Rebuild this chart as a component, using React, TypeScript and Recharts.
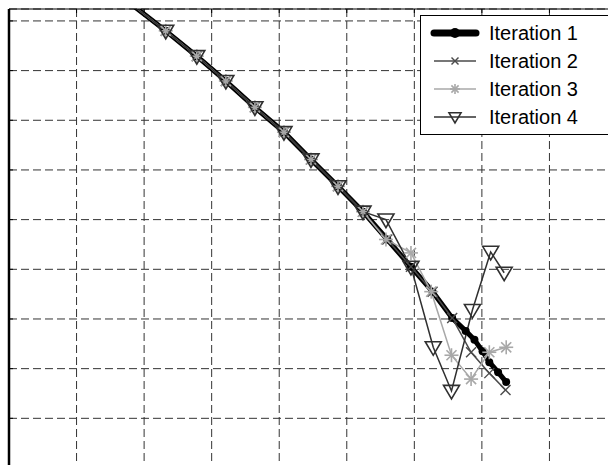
import { LineChart, Line, XAxis, YAxis, CartesianGrid, Legend } from 'recharts';

const iteration1 = [
	{ x: 1.4, y: 8.77 }, { x: 2.32, y: 7.8 }, { x: 2.78, y: 7.29 }, { x: 3.21, y: 6.79 },
	{ x: 3.64, y: 6.26 }, { x: 4.07, y: 5.76 }, { x: 4.47, y: 5.21 }, { x: 4.87, y: 4.67 },
	{ x: 5.24, y: 4.16 }, { x: 5.6, y: 3.6 }, { x: 5.95, y: 3.05 }, { x: 6.27, y: 2.55 },
	{ x: 6.56, y: 2.02 }, { x: 6.76, y: 1.76 }, { x: 6.89, y: 1.58 }, { x: 7.01, y: 1.35 },
	{ x: 7.11, y: 1.13 }, { x: 7.24, y: 0.93 }, { x: 7.36, y: 0.73 },
];

const iteration2 = [
	{ x: 1.4, y: 8.77 }, { x: 2.32, y: 7.8 }, { x: 2.78, y: 7.29 }, { x: 3.21, y: 6.79 },
	{ x: 3.64, y: 6.26 }, { x: 4.07, y: 5.76 }, { x: 4.47, y: 5.21 }, { x: 4.87, y: 4.67 },
	{ x: 5.24, y: 4.16 }, { x: 5.6, y: 3.6 }, { x: 5.95, y: 3.05 }, { x: 6.27, y: 2.55 },
	{ x: 6.56, y: 2.02 }, { x: 6.84, y: 1.33 }, { x: 7.11, y: 0.91 }, { x: 7.35, y: 0.57 },
];

const iteration3 = [
	{ x: 1.4, y: 8.77 }, { x: 2.32, y: 7.8 }, { x: 2.78, y: 7.29 }, { x: 3.21, y: 6.79 },
	{ x: 3.64, y: 6.26 }, { x: 4.07, y: 5.76 }, { x: 4.47, y: 5.21 }, { x: 4.87, y: 4.67 },
	{ x: 5.24, y: 4.16 }, { x: 5.58, y: 3.6 }, { x: 5.95, y: 3.33 }, { x: 6.25, y: 2.55 },
	{ x: 6.55, y: 1.27 }, { x: 6.84, y: 0.79 }, { x: 7.11, y: 1.33 }, { x: 7.36, y: 1.43 },
];

const iteration4 = [
	{ x: 1.4, y: 8.77 }, { x: 2.32, y: 7.8 }, { x: 2.78, y: 7.29 }, { x: 3.21, y: 6.79 },
	{ x: 3.64, y: 6.26 }, { x: 4.07, y: 5.76 }, { x: 4.47, y: 5.21 }, { x: 4.87, y: 4.67 },
	{ x: 5.24, y: 4.16 }, { x: 5.58, y: 4.0 }, { x: 5.95, y: 3.05 }, { x: 6.28, y: 1.43 },
	{ x: 6.55, y: 0.55 }, { x: 6.86, y: 2.18 }, { x: 7.13, y: 3.35 }, { x: 7.33, y: 2.93 },
];

const xTicks = [1, 2, 3, 4, 5, 6, 7, 8];
const yTicks = [0, 1, 2, 3, 4, 5, 6, 7, 8];
const seriesNames = ['Iteration 1', 'Iteration 2', 'Iteration 3', 'Iteration 4'];

const C2 = '#4a4a4a';
const C3 = '#a8a8a8';
const C4 = '#303030';

// marker shapes (matlab-ish)
function Cross({ cx, cy, s = 5, color }: any) {
	return (
		<g stroke={color} strokeWidth={1.4}>
			<line x1={cx - s} y1={cy - s} x2={cx + s} y2={cy + s} />
			<line x1={cx - s} y1={cy + s} x2={cx + s} y2={cy - s} />
		</g>
	);
}

function Star({ cx, cy, s = 7, color }: any) {
	const d = s * 0.72;
	return (
		<g stroke={color} strokeWidth={1.6}>
			<line x1={cx - s} y1={cy} x2={cx + s} y2={cy} />
			<line x1={cx} y1={cy - s} x2={cx} y2={cy + s} />
			<line x1={cx - d} y1={cy - d} x2={cx + d} y2={cy + d} />
			<line x1={cx - d} y1={cy + d} x2={cx + d} y2={cy - d} />
		</g>
	);
}

function TriDown({ cx, cy, s = 8, color }: any) {
	const pts = `${cx - s},${cy - s * 0.7} ${cx + s},${cy - s * 0.7} ${cx},${cy + s}`;
	return <polygon points={pts} fill="none" stroke={color} strokeWidth={1.6} />;
}

const dot1 = (p: any) => <circle key={`d1-${p.index}`} cx={p.cx} cy={p.cy} r={4} fill="#000" />;
const dot2 = (p: any) => <Cross key={`d2-${p.index}`} cx={p.cx} cy={p.cy} color={C2} />;
const dot3 = (p: any) => <Star key={`d3-${p.index}`} cx={p.cx} cy={p.cy} color={C3} />;
const dot4 = (p: any) => <TriDown key={`d4-${p.index}`} cx={p.cx} cy={p.cy} color={C4} />;

const noLabel = () => <g />;

function LegendBox() {
	const rows = [
		{ stroke: '#000', width: 7, marker: (cx: number, cy: number) => <circle cx={cx} cy={cy} r={5} fill="#000" /> },
		{ stroke: C2, width: 1.5, marker: (cx: number, cy: number) => <Cross cx={cx} cy={cy} s={3.5} color={C2} /> },
		{ stroke: C3, width: 1.5, marker: (cx: number, cy: number) => <Star cx={cx} cy={cy} s={5} color={C3} /> },
		{ stroke: C4, width: 1.5, marker: (cx: number, cy: number) => <TriDown cx={cx} cy={cy} s={6} color={C4} /> },
	];
	return (
		<div
			style={{
				border: '1px solid #000',
				background: '#fff',
				width: 220,
				height: 120,
				boxSizing: 'border-box',
				padding: '3px 0 0 9px',
				fontFamily: '"Liberation Sans", Arial, sans-serif',
				fontSize: 20,
				color: '#000',
			}}
		>
			{seriesNames.map((name, i) => (
				<div key={name} style={{ display: 'flex', alignItems: 'center', height: 28 }}>
					<svg width={50} height={20} style={{ marginRight: 9 }}>
						<line x1={4} y1={10} x2={46} y2={10} stroke={rows[i].stroke} strokeWidth={rows[i].width} strokeLinecap={i === 0 ? 'round' : 'butt'} />
						{rows[i].marker(25, 10)}
					</svg>
					<span>{name}</span>
				</div>
			))}
		</div>
	);
}

export default function App() {
	return (
		<div style={{ position: 'absolute', left: 0, top: 0, width: 608, height: 465, overflow: 'hidden', background: '#fff' }}>
			<LineChart width={622} height={473} margin={{ top: 9, left: 9, right: 5, bottom: 5 }}>
				<CartesianGrid stroke="#333" strokeDasharray="8 4" />
				<XAxis
					type="number"
					dataKey="x"
					orientation="top"
					domain={[0, 9]}
					ticks={xTicks}
					allowDataOverflow
					height={1}
					mirror
					tick={noLabel}
					tickSize={4}
					axisLine={{ stroke: '#000', strokeWidth: 1.2 }}
					tickLine={{ stroke: '#000' }}
				/>
				<YAxis
					type="number"
					dataKey="y"
					domain={[-1, 8.24]}
					ticks={yTicks}
					allowDataOverflow
					width={1}
					mirror
					tick={noLabel}
					tickSize={4}
					axisLine={{ stroke: '#000', strokeWidth: 2.5 }}
					tickLine={{ stroke: '#000' }}
				/>
				<Line data={iteration1} dataKey="y" name={seriesNames[0]} stroke="#000" strokeWidth={5} dot={dot1} isAnimationActive={false} />
				<Line data={iteration2} dataKey="y" name={seriesNames[1]} stroke={C2} strokeWidth={1.5} dot={dot2} isAnimationActive={false} />
				<Line data={iteration3} dataKey="y" name={seriesNames[2]} stroke={C3} strokeWidth={1.5} dot={dot3} isAnimationActive={false} />
				<Line data={iteration4} dataKey="y" name={seriesNames[3]} stroke={C4} strokeWidth={1.5} dot={dot4} isAnimationActive={false} />
				<Legend
					layout="vertical"
					align="center"
					verticalAlign="middle"
					content={() => <LegendBox />}
					wrapperStyle={{ left: 420, top: 15, width: 220 }}
				/>
			</LineChart>
		</div>
	);
}
